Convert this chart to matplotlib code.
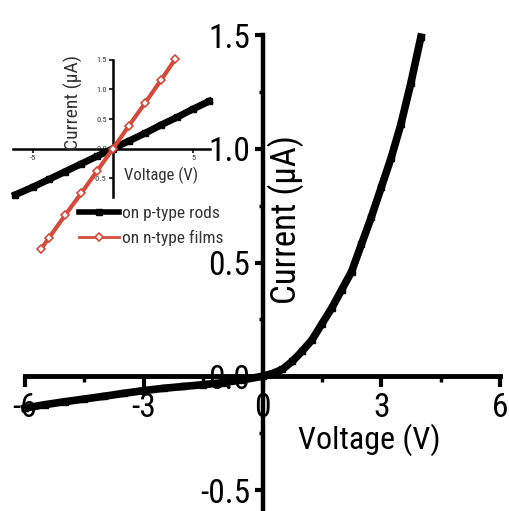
import numpy as np
import matplotlib
matplotlib.use("Agg")
import matplotlib.pyplot as plt
from matplotlib import font_manager as fm
from matplotlib.lines import Line2D
from matplotlib.ticker import MultipleLocator


def pick_font():
    """Prefer a narrow sans face; fall back to Liberation Sans at a smaller size."""
    for name in ["Liberation Sans Narrow", "Roboto Condensed", "DejaVu Sans Condensed",
                 "Open Sans Condensed"]:
        try:
            fm.findfont(fm.FontProperties(family=name), fallback_to_default=False)
            return name, 1.0
        except ValueError:
            pass
    return "Liberation Sans", 0.78


font_name, fscale = pick_font()
plt.rcParams["font.family"] = [font_name, "DejaVu Sans"]

# I-V curve of the junction (main panel)
voltage = [-6.0, -5.5, -5.0, -4.5, -4.0, -3.5, -3.0, -2.5, -2.0, -1.5, -1.0, -0.5,
           0.0, 0.25, 0.5, 0.75, 1.0, 1.25, 1.5, 1.75, 2.0, 2.25, 2.5, 2.75,
           3.0, 3.25, 3.5, 3.75, 4.0]
current = [-0.140, -0.125, -0.112, -0.100, -0.088, -0.075, -0.063, -0.053, -0.045,
           -0.037, -0.028, -0.016, 0.0, 0.012, 0.030, 0.065, 0.110, 0.160, 0.230,
           0.300, 0.380, 0.460, 0.580, 0.700, 0.830, 0.960, 1.110, 1.290, 1.490]

# contact I-V curves (inset)
rods_v = [-6.1, -5.0, -4.0, -3.0, -2.0, -1.0, 0.0, 1.0, 2.0, 3.0, 4.0, 5.0, 6.0]
rods_i = [-0.78, -0.65, -0.52, -0.39, -0.26, -0.13, 0.0, 0.13, 0.26, 0.40, 0.53, 0.67, 0.80]
films_v = [-4.5, -4.0, -3.0, -2.0, -1.0, 0.0, 1.0, 2.0, 3.0, 3.9]
films_i = [-1.70, -1.51, -1.13, -0.76, -0.38, 0.0, 0.39, 0.77, 1.16, 1.52]

legend_labels = ["on p-type rods", "on n-type films"]
red = "#d64a3c"
grey = "#333333"

W, H = 509, 511
fig = plt.figure(figsize=(W / 100, H / 100), dpi=100)

# main axes, spines crossing at the origin
ax = fig.add_axes([25 / W, (H - 512.75) / H, 475 / W, 477.75 / H])
ax.set_xlim(-6, 6)
ax.set_ylim(-0.6, 1.5)
for side in ["top", "right"]:
    ax.spines[side].set_visible(False)
ax.spines["left"].set_position(("data", 0))
ax.spines["bottom"].set_position(("data", 0))
ax.spines["left"].set_linewidth(3.2)
ax.spines["bottom"].set_linewidth(3.5)
ax.set_facecolor("none")

ax.xaxis.set_major_locator(MultipleLocator(3))
ax.xaxis.set_minor_locator(MultipleLocator(1.5))
ax.yaxis.set_major_locator(MultipleLocator(0.5))
ax.yaxis.set_minor_locator(MultipleLocator(0.25))
ax.tick_params(axis="x", which="major", direction="out", length=8, width=3,
               labelsize=24 * fscale, pad=3)
ax.tick_params(axis="x", which="minor", direction="out", length=4, width=2.5)
ax.tick_params(axis="y", which="major", direction="out", length=6, width=3,
               labelsize=24 * fscale, pad=3)
ax.tick_params(axis="y", which="minor", direction="out", length=3, width=2.5)
ax.set_xticks([-6, -3, 0, 3, 6])
ax.set_xticklabels(["-6", "-3", "0", "3", "6"])
ax.set_yticks([-0.5, 0.0, 0.5, 1.0, 1.5])
ax.set_yticklabels(["-0.5", "0.0", "0.5", "1.0", "1.5"])

ax.plot(voltage, current, color="black", lw=5.5, marker="s", ms=5,
        solid_joinstyle="miter", zorder=3, clip_on=False)

ax.text(2.7, -0.28, "Voltage (V)", fontsize=23 * fscale, ha="center", va="center")
ax.text(0.6, 0.69, "Current (\u03bcA)", fontsize=25 * fscale, rotation=90,
        ha="center", va="center")

# inset
ax_in = fig.add_axes([13 / W, (H - 252) / H, 197 / W, 195 / H])
ax_in.set_facecolor("none")
ax_in.set_xlim(-6.25, 6.06)
ax_in.set_ylim(-1.75, 1.55)
for side in ["top", "right"]:
    ax_in.spines[side].set_visible(False)
ax_in.spines["left"].set_position(("data", 0))
ax_in.spines["bottom"].set_position(("data", 0))
ax_in.spines["left"].set_bounds(-0.82, 1.5)
ax_in.spines["left"].set_linewidth(1.8)
ax_in.spines["bottom"].set_linewidth(1.8)
ax_in.set_xticks([-5, 5])
ax_in.set_xticklabels(["-5", "5"])
ax_in.set_yticks([-0.5, 0.0, 0.5, 1.0, 1.5])
ax_in.set_yticklabels(["-0.5", "0.0", "0.5", "1.0", "1.5"])
ax_in.tick_params(length=3, width=1.5, labelsize=6, pad=1.5, colors=grey)

ax_in.plot(rods_v, rods_i, color="black", lw=5, marker="s", ms=5,
           zorder=3, clip_on=False)
ax_in.plot(films_v, films_i, color=red, lw=3, marker="D", ms=4,
           mfc="white", mec=red, mew=1.2, zorder=4, clip_on=False)

ax_in.text(3.0, -0.45, "Voltage (V)", fontsize=12 * fscale, ha="center",
           va="center", color=grey)
ax_in.text(-2.5, 0.78, "Current (\u03bcA)", fontsize=14 * fscale, rotation=90,
           ha="center", va="center", color=grey)

handles = [
    Line2D([], [], color="black", lw=4, marker="s", ms=5),
    Line2D([], [], color=red, lw=2, marker="D", ms=4, mfc="white", mec=red, mew=1.2),
]
fig.legend(handles, legend_labels, loc="upper left",
           bbox_to_anchor=(79 / W, 1 - 206 / H), frameon=False,
           fontsize=12.5 * fscale, handlelength=2.3, handletextpad=0.15,
           labelspacing=0.5, borderpad=0, borderaxespad=0, labelcolor=grey)

fig.savefig("out.png", dpi=100)
